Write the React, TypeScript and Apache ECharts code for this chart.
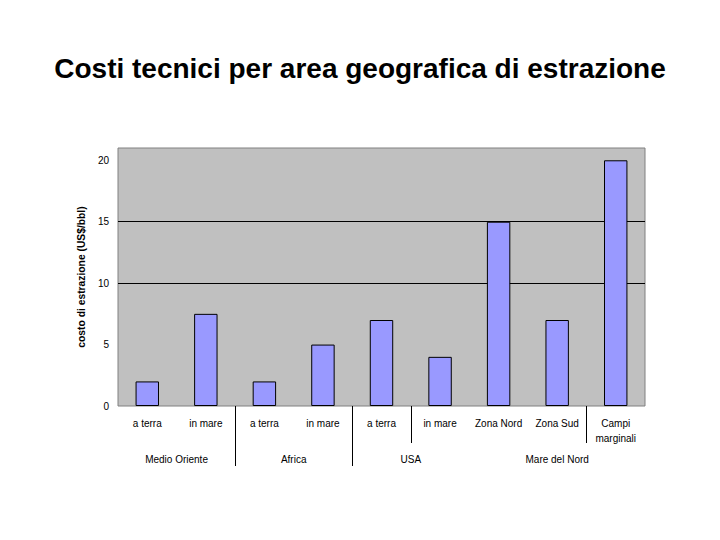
import React, { useEffect, useRef } from "react";
import * as echarts from "echarts";

const categories = ["a terra", "in mare", "a terra", "in mare", "a terra", "in mare", "Zona Nord", "Zona Sud", "Campi\nmarginali"];
const costs = [2, 7.5, 2, 5, 7, 4, 15, 7, 20];
const groups = [
  { name: "Medio Oriente", start: 0, end: 1 },
  { name: "Africa", start: 2, end: 3 },
  { name: "USA", start: 4, end: 5 },
  { name: "Mare del Nord", start: 6, end: 8 },
];
// separators: [boundary after category index, long?]
const separators = [
  { after: 1, long: true },
  { after: 3, long: true },
  { after: 4, long: false },
  { after: 7, long: false },
];
const gridLines = [10, 15];

export default function App() {
  const ref = useRef<HTMLDivElement>(null);
  useEffect(() => {
    const chart = echarts.init(ref.current!, null, { renderer: "svg" });
    const font = "Arial, 'Liberation Sans', sans-serif";
    chart.setOption({
      animation: false,
      backgroundColor: "#ffffff",
      title: {
        text: "Costi tecnici per area geografica di estrazione",
        left: "center",
        top: 49,
        textStyle: { fontFamily: font, fontSize: 28, fontWeight: "bold", color: "#000" },
      },
      grid: {
        left: 118,
        right: 75,
        top: 148,
        bottom: 134,
        show: true,
        backgroundColor: "#c0c0c0",
        borderColor: "#808080",
        borderWidth: 1,
      },
      xAxis: {
        type: "category",
        data: categories,
        axisLine: { show: false },
        axisTick: { show: false },
        axisLabel: { interval: 0, color: "#000", fontFamily: font, fontSize: 10, margin: 10, lineHeight: 15 },
      },
      yAxis: {
        type: "value",
        min: 0,
        max: 21,
        interval: 5,
        name: "costo di estrazione (US$/bbl)",
        nameLocation: "middle",
        nameRotate: 90,
        nameGap: 24,
        nameTextStyle: { fontFamily: font, fontSize: 10.3, color: "#000", fontWeight: "bold" },
        axisLine: { show: false },
        axisTick: { show: false },
        splitLine: { show: false },
        axisLabel: {
          color: "#000",
          fontFamily: font,
          fontSize: 10,
          margin: 9,
          showMaxLabel: false,
          formatter: (v: number) => (v % 5 === 0 && v <= 20 ? String(v) : ""),
        },
      },
      series: [
        {
          type: "bar",
          data: costs,
          barWidth: "40%",
          z: 2,
          itemStyle: { color: "#9999ff", borderColor: "#000", borderWidth: 1 },
          markLine: {
            z: 1,
            silent: true,
            symbol: "none",
            label: { show: false },
            lineStyle: { color: "#000", width: 1, type: "solid" },
            data: gridLines.map((y) => ({ yAxis: y })),
          },
        },
      ],
    });

    const px = (i: number) => chart.convertToPixel({ xAxisIndex: 0 }, i) as number;
    const y0 = chart.convertToPixel({ yAxisIndex: 0 }, 0) as number;
    const step = px(1) - px(0);
    const elements: any[] = [];
    groups.forEach((g) => {
      elements.push({
        type: "text",
        x: (px(g.start) + px(g.end)) / 2,
        y: y0 + 53,
        style: { text: g.name, fontFamily: font, fontSize: 10, fill: "#000", align: "center", verticalAlign: "middle" },
      });
    });
    separators.forEach((s) => {
      const x = Math.round(px(s.after) + step / 2) + 0.5;
      elements.push({
        type: "line",
        shape: { x1: x, y1: y0, x2: x, y2: y0 + (s.long ? 60 : 37) },
        style: { stroke: "#000", lineWidth: 1 },
      });
    });
    chart.setOption({ graphic: elements });

    return () => chart.dispose();
  }, []);
  return <div ref={ref} style={{ position: "fixed", left: 0, top: 0, width: 720, height: 540 }} />;
}
